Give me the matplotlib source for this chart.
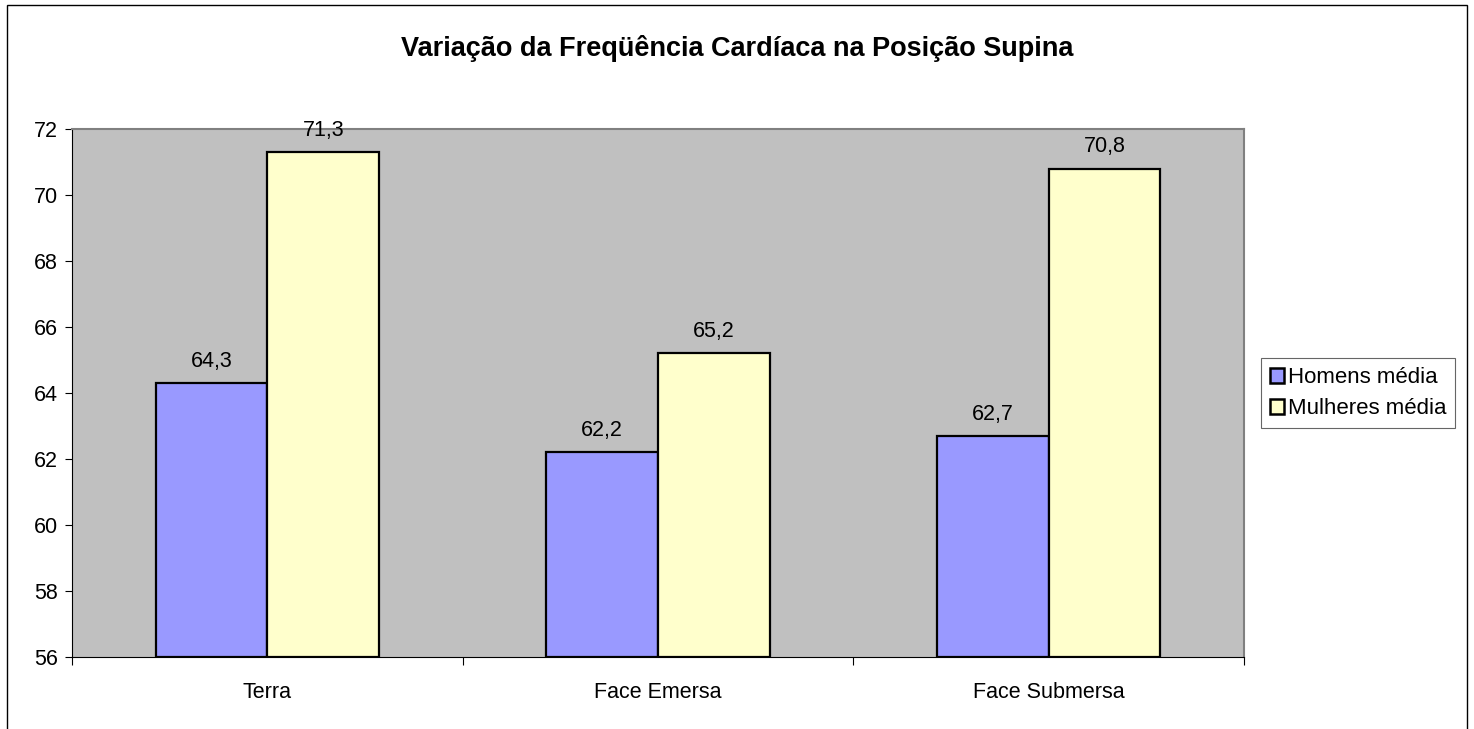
import matplotlib
matplotlib.use("Agg")
import matplotlib.pyplot as plt
from matplotlib.patches import Rectangle
import numpy as np

categories = ["Terra", "Face Emersa", "Face Submersa"]
homens = [64.3, 62.2, 62.7]
mulheres = [71.3, 65.2, 70.8]
series_names = ["Homens média", "Mulheres média"]
yticks = [56, 58, 60, 62, 64, 66, 68, 70, 72]

plt.rcParams['font.family'] = ['Liberation Sans', 'DejaVu Sans']

fig = plt.figure(figsize=(14.74, 7.29), dpi=100)
ax = fig.add_axes([72/1474, 1-657/729, (1244-72)/1474, (657-129)/729])
ax.set_facecolor('#C0C0C0')

x = np.arange(len(categories))
w = 0.286
b1 = ax.bar(x - w/2, [h - 56 for h in homens], w, bottom=56, color='#9999FF', edgecolor='black', linewidth=1.6, label=series_names[0], zorder=3)
b2 = ax.bar(x + w/2, [m - 56 for m in mulheres], w, bottom=56, color='#FFFFCC', edgecolor='black', linewidth=1.6, label=series_names[1], zorder=3)

for rects, vals in ((b1, homens), (b2, mulheres)):
    for r, v in zip(rects, vals):
        ax.annotate(f"{v:.1f}".replace('.', ','), (r.get_x() + r.get_width()/2, v),
                    xytext=(0, 8), textcoords='offset points', ha='center', va='bottom', fontsize=15.5)

ax.set_xlim(-0.5, 2.5)
ax.set_ylim(56, 72)
ax.set_yticks(yticks)
ax.set_yticklabels([str(t) for t in yticks], fontsize=15.5)
ax.set_xticks([-0.5, 0.5, 1.5, 2.5])
ax.set_xticklabels([])
ax.set_xticks(x, minor=True)
ax.set_xticklabels(categories, minor=True, fontsize=15.5)
ax.tick_params(axis='x', which='minor', length=0, pad=18)
ax.tick_params(axis='x', which='major', length=6, width=0.8, direction='out')
ax.tick_params(axis='y', length=5, width=0.8, direction='out', pad=5)

for s in ['top', 'right']:
    ax.spines[s].set_color('#808080')
    ax.spines[s].set_linewidth(1.5)
ax.spines['left'].set_color('black')
ax.spines['bottom'].set_color('black')
ax.spines['left'].set_linewidth(0.8)
ax.spines['bottom'].set_linewidth(0.8)

fig.text(737/1474, 1-49/729, "Variação da Freqüência Cardíaca na Posição Supina", ha='center', va='center',
         fontsize=19.5, fontweight='bold')

leg = ax.legend(loc='center left', bbox_to_anchor=(1261/1474, 1-393/729), bbox_transform=fig.transFigure,
                fontsize=16, frameon=True, fancybox=False, edgecolor='#404040', borderpad=0.4,
                handlelength=0.65, handleheight=0.65, handletextpad=0.15, labelspacing=0.45, borderaxespad=0)
leg.get_frame().set_linewidth(0.8)
for p in leg.get_patches():
    p.set_linewidth(1.8)

fig.patches.append(Rectangle((7/1474, -0.05), (1467-7)/1474, 1.05 - 5/729, transform=fig.transFigure,
                             fill=False, edgecolor='black', linewidth=1.0))

fig.savefig('out.png', dpi=100)
